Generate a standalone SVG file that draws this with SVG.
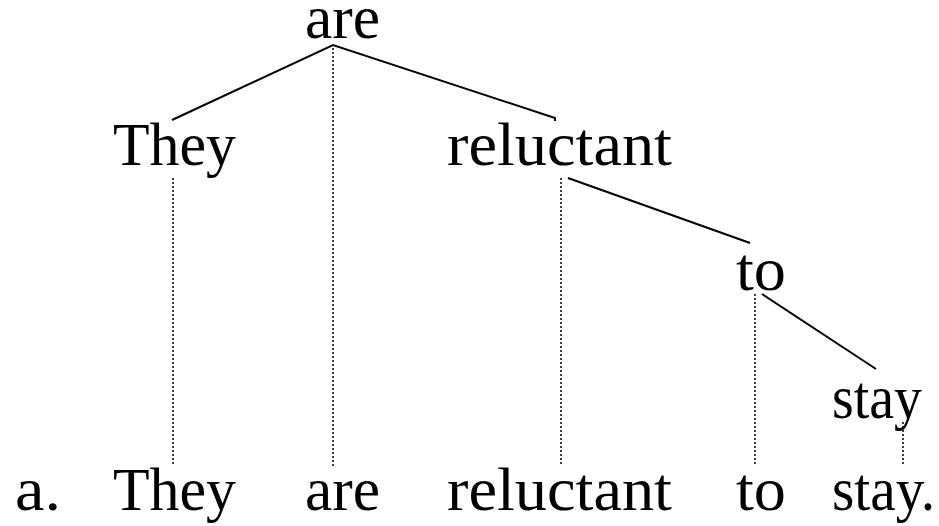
<svg xmlns="http://www.w3.org/2000/svg" width="939" height="526" viewBox="0 0 939 526">
<style>
text{font-family:"Liberation Serif","DejaVu Serif",serif;font-size:62px;fill:#000}
.solid{stroke:#000;stroke-width:2;fill:none}
.dot{stroke:#000;stroke-width:1.5;stroke-dasharray:2 2;fill:none}
</style>
<rect width="939" height="526" fill="#fff"/>
<g id="connectors">
<polyline class="solid" points="172,120 333,45 555,118 555,121"/>
<line class="solid" x1="568" y1="178" x2="750" y2="243"/>
<line class="solid" x1="762" y1="294" x2="876" y2="369"/>
<line class="dot" x1="333" y1="48" x2="333" y2="466"/>
<line class="dot" x1="173" y1="178" x2="173" y2="466"/>
<line class="dot" x1="561" y1="178" x2="561" y2="466"/>
<line class="dot" x1="755" y1="294" x2="755" y2="466"/>
<line class="dot" x1="903" y1="422" x2="903" y2="466"/>
</g>
<g id="n-are"><text x="305" y="38" textLength="75" lengthAdjust="spacingAndGlyphs">are</text></g>
<g id="n-they"><text x="113" y="165" textLength="123" lengthAdjust="spacingAndGlyphs">They</text></g>
<g id="n-reluctant"><text x="447" y="165" textLength="225" lengthAdjust="spacingAndGlyphs">reluctant</text></g>
<g id="n-to"><text x="736" y="290" textLength="50" lengthAdjust="spacingAndGlyphs">to</text></g>
<g id="n-stay"><text x="832" y="418" textLength="90" lengthAdjust="spacingAndGlyphs">stay</text></g>
<g id="sentence">
<text x="15" y="510" textLength="46" lengthAdjust="spacingAndGlyphs">a.</text>
<text x="113" y="510" textLength="123" lengthAdjust="spacingAndGlyphs">They</text>
<text x="305" y="510" textLength="75" lengthAdjust="spacingAndGlyphs">are</text>
<text x="447" y="510" textLength="225" lengthAdjust="spacingAndGlyphs">reluctant</text>
<text x="736" y="510" textLength="50" lengthAdjust="spacingAndGlyphs">to</text>
<text x="832" y="510" textLength="103" lengthAdjust="spacingAndGlyphs">stay.</text>
</g>
</svg>
